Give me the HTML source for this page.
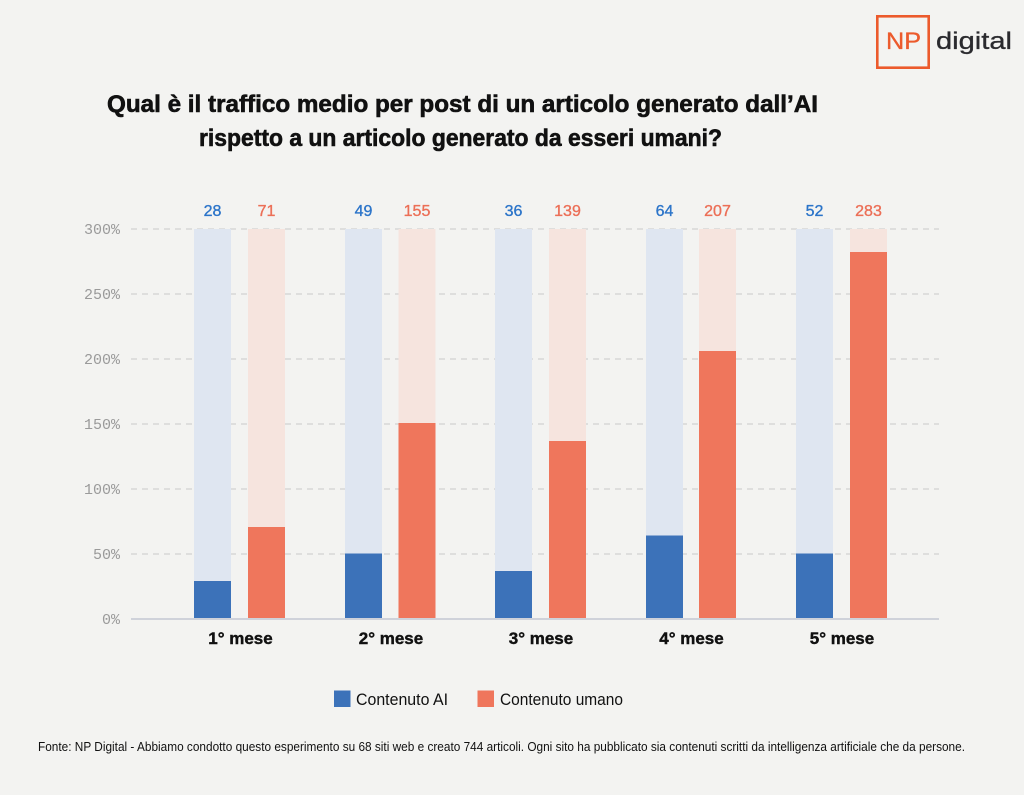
<!DOCTYPE html>
<html>
<head>
<meta charset="utf-8">
<style>
  html,body{margin:0;padding:0;background:#f3f3f1;}
  svg{display:block;}
  text{font-family:"Liberation Sans", sans-serif;}
</style>
</head>
<body>
<svg width="1024" height="795" viewBox="0 0 1024 795" xmlns="http://www.w3.org/2000/svg">
  <rect x="0" y="0" width="1024" height="795" fill="#f3f3f1"/>

  <!-- Logo -->
  <rect x="877.3" y="16.3" width="51.4" height="51.4" fill="none" stroke="#ec5a2c" stroke-width="2.6"/>
  <text x="886" y="49" font-size="24" fill="#ec5a2c" stroke="#ec5a2c" stroke-width="0.3" textLength="35" lengthAdjust="spacingAndGlyphs">NP</text>
  <text x="936" y="49" font-size="24" fill="#2a2a2e" stroke="#2a2a2e" stroke-width="0.3" textLength="76" lengthAdjust="spacingAndGlyphs">digital</text>

  <!-- Title -->
  <text x="107" y="112" font-size="24" font-weight="bold" fill="#111" stroke="#111" stroke-width="0.6" textLength="711" lengthAdjust="spacingAndGlyphs">Qual è il traffico medio per post di un articolo generato dall’AI</text>
  <text x="199" y="146" font-size="24" font-weight="bold" fill="#111" stroke="#111" stroke-width="0.6" textLength="523" lengthAdjust="spacingAndGlyphs">rispetto a un articolo generato da esseri umani?</text>

  <!-- Grid lines -->
  <g stroke="#c9c9c9" stroke-width="1" stroke-dasharray="6,5">
    <line x1="131" y1="229" x2="939" y2="229"/>
    <line x1="131" y1="294" x2="939" y2="294"/>
    <line x1="131" y1="359" x2="939" y2="359"/>
    <line x1="131" y1="424" x2="939" y2="424"/>
    <line x1="131" y1="489" x2="939" y2="489"/>
    <line x1="131" y1="554" x2="939" y2="554"/>
  </g>

  <!-- Y labels -->
  <g font-size="15" fill="#9a9a9a" text-anchor="end">
    <text x="120" y="234" style="font-family:'Liberation Mono',monospace">300%</text>
    <text x="120" y="299" style="font-family:'Liberation Mono',monospace">250%</text>
    <text x="120" y="364" style="font-family:'Liberation Mono',monospace">200%</text>
    <text x="120" y="429" style="font-family:'Liberation Mono',monospace">150%</text>
    <text x="120" y="494" style="font-family:'Liberation Mono',monospace">100%</text>
    <text x="120" y="559" style="font-family:'Liberation Mono',monospace">50%</text>
    <text x="120" y="624" style="font-family:'Liberation Mono',monospace">0%</text>
  </g>

  <!-- Background bars -->
  <g fill="#dfe6f1">
    <rect x="194" y="229" width="37" height="390"/>
    <rect x="345" y="229" width="37" height="390"/>
    <rect x="495" y="229" width="37" height="390"/>
    <rect x="646" y="229" width="37" height="390"/>
    <rect x="796" y="229" width="37" height="390"/>
  </g>
  <g fill="#f6e4de">
    <rect x="248" y="229" width="37" height="390"/>
    <rect x="398.5" y="229" width="37" height="390"/>
    <rect x="549" y="229" width="37" height="390"/>
    <rect x="699" y="229" width="37" height="390"/>
    <rect x="850" y="229" width="37" height="390"/>
  </g>

  <!-- Value bars -->
  <g fill="#3c72b9">
    <rect x="194" y="581" width="37" height="38"/>
    <rect x="345" y="553.5" width="37" height="65.5"/>
    <rect x="495" y="571" width="37" height="48"/>
    <rect x="646" y="535.5" width="37" height="83.5"/>
    <rect x="796" y="553.5" width="37" height="65.5"/>
  </g>
  <g fill="#ef765c">
    <rect x="248" y="527" width="37" height="92"/>
    <rect x="398.5" y="423" width="37" height="196"/>
    <rect x="549" y="441" width="37" height="178"/>
    <rect x="699" y="351" width="37" height="268"/>
    <rect x="850" y="252" width="37" height="367"/>
  </g>

  <!-- Zero axis -->
  <line x1="131" y1="619" x2="939" y2="619" stroke="#cfd2da" stroke-width="2"/>

  <!-- Value labels -->
  <g font-size="16" text-anchor="middle" stroke-width="0.35">
    <text x="212.5" y="216" fill="#2b74c9" stroke="#2b74c9">28</text>
    <text x="266.5" y="216" fill="#ec6f57" stroke="#ec6f57">71</text>
    <text x="363.5" y="216" fill="#2b74c9" stroke="#2b74c9">49</text>
    <text x="417" y="216" fill="#ec6f57" stroke="#ec6f57">155</text>
    <text x="513.5" y="216" fill="#2b74c9" stroke="#2b74c9">36</text>
    <text x="567.5" y="216" fill="#ec6f57" stroke="#ec6f57">139</text>
    <text x="664.5" y="216" fill="#2b74c9" stroke="#2b74c9">64</text>
    <text x="717.5" y="216" fill="#ec6f57" stroke="#ec6f57">207</text>
    <text x="814.5" y="216" fill="#2b74c9" stroke="#2b74c9">52</text>
    <text x="868.5" y="216" fill="#ec6f57" stroke="#ec6f57">283</text>
  </g>

  <!-- Category labels -->
  <g font-size="17" font-weight="bold" fill="#111" stroke="#111" stroke-width="0.4" text-anchor="middle">
    <text x="240.5" y="644">1°&#160;mese</text>
    <text x="391" y="644">2°&#160;mese</text>
    <text x="541" y="644">3°&#160;mese</text>
    <text x="691.5" y="644">4°&#160;mese</text>
    <text x="842" y="644">5°&#160;mese</text>
  </g>

  <!-- Legend -->
  <rect x="334" y="690.5" width="16.5" height="16.5" fill="#3c72b9"/>
  <text x="356" y="705" font-size="17" fill="#111" textLength="92" lengthAdjust="spacingAndGlyphs">Contenuto AI</text>
  <rect x="477.5" y="690.5" width="16.5" height="16.5" fill="#ef765c"/>
  <text x="500" y="705" font-size="17" fill="#111" textLength="123" lengthAdjust="spacingAndGlyphs">Contenuto umano</text>

  <!-- Footer -->
  <text x="38" y="751" font-size="12.5" fill="#111" textLength="927" lengthAdjust="spacingAndGlyphs">Fonte: NP Digital - Abbiamo condotto questo esperimento su 68 siti web e creato 744 articoli. Ogni sito ha pubblicato sia contenuti scritti da intelligenza artificiale che da persone.</text>
</svg>
</body>
</html>
